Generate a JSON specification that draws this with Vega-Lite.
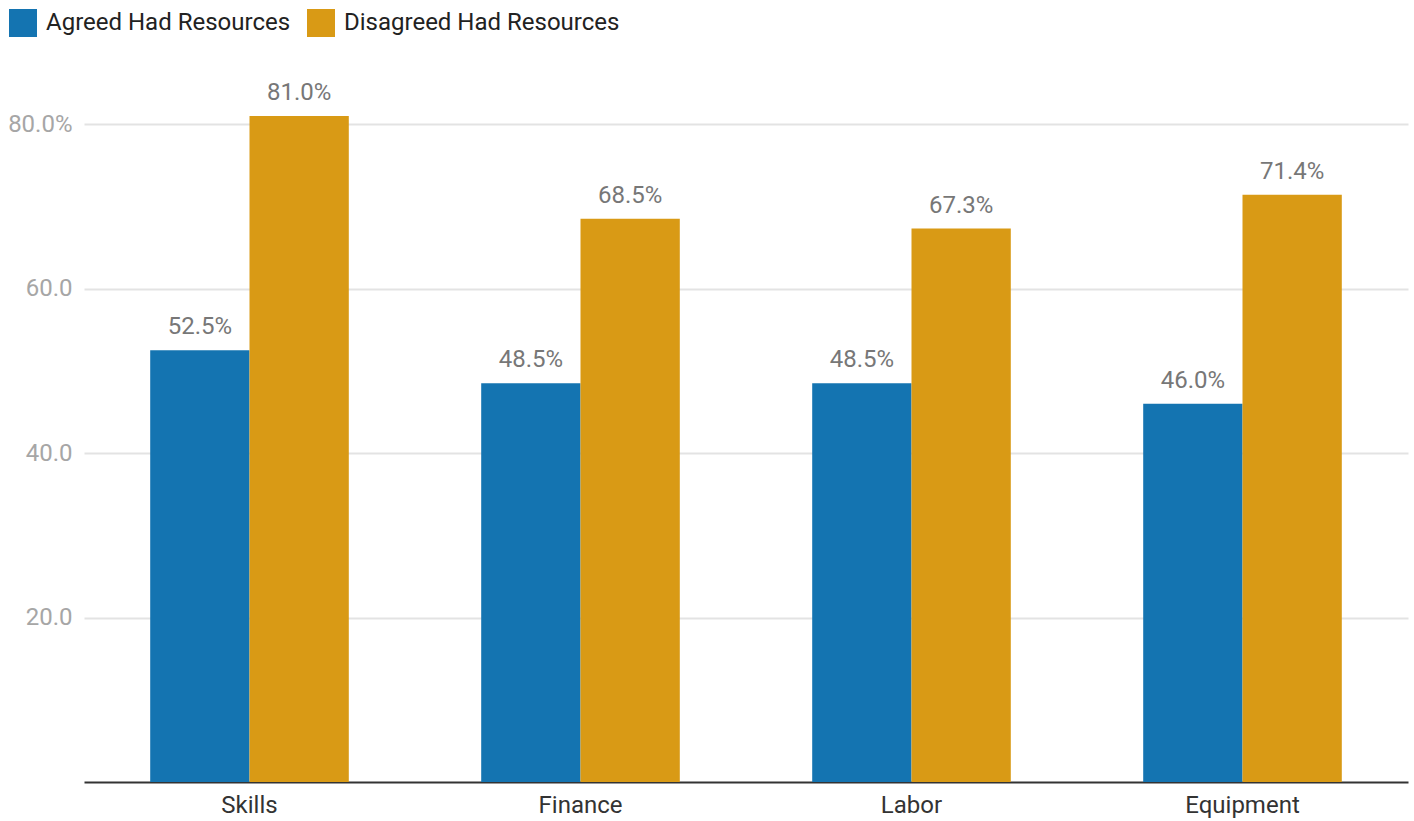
{
  "$schema": "https://vega.github.io/schema/vega-lite/v6.json",
  "autosize": {"type": "none"},
  "width": 1324,
  "height": 699,
  "padding": {"left": 84, "top": 83, "right": 6, "bottom": 39},
  "background": "#ffffff",
  "config": {
    "font": "Roboto",
    "view": {"stroke": null}
  },
  "data": {
    "values": [
      {"category": "Skills", "series": "Agreed Had Resources", "value": 52.5},
      {"category": "Skills", "series": "Disagreed Had Resources", "value": 81.0},
      {"category": "Finance", "series": "Agreed Had Resources", "value": 48.5},
      {"category": "Finance", "series": "Disagreed Had Resources", "value": 68.5},
      {"category": "Labor", "series": "Agreed Had Resources", "value": 48.5},
      {"category": "Labor", "series": "Disagreed Had Resources", "value": 67.3},
      {"category": "Equipment", "series": "Agreed Had Resources", "value": 46.0},
      {"category": "Equipment", "series": "Disagreed Had Resources", "value": 71.4}
    ]
  },
  "transform": [
    {"calculate": "format(datum.value, '.1f') + '%'", "as": "label"}
  ],
  "encoding": {
    "x": {
      "field": "category",
      "type": "nominal",
      "sort": ["Skills", "Finance", "Labor", "Equipment"],
      "scale": {"paddingInner": 0.4, "paddingOuter": 0.2},
      "axis": {
        "title": null,
        "labelAngle": 0,
        "labelFontSize": 24,
        "labelColor": "#333333",
        "labelPadding": 11,
        "ticks": false,
        "domainColor": "#333333",
        "domainWidth": 2,
        "grid": false
      }
    },
    "xOffset": {
      "field": "series",
      "type": "nominal",
      "sort": ["Agreed Had Resources", "Disagreed Had Resources"],
      "scale": {"paddingInner": 0, "paddingOuter": 0}
    },
    "y": {
      "field": "value",
      "type": "quantitative",
      "scale": {"domain": [0, 85], "nice": false},
      "axis": {
        "title": null,
        "values": [20, 40, 60, 80],
        "labelExpr": "datum.value == 80 ? '80.0%' : format(datum.value, '.1f')",
        "labelFontSize": 24,
        "labelColor": "#a6a6a6",
        "labelPadding": 12,
        "ticks": false,
        "domain": false,
        "grid": true,
        "gridColor": "#e3e3e3",
        "gridWidth": 2
      }
    }
  },
  "layer": [
    {
      "mark": {"type": "bar"},
      "encoding": {
        "color": {
          "field": "series",
          "type": "nominal",
          "sort": ["Agreed Had Resources", "Disagreed Had Resources"],
          "scale": {
            "domain": ["Agreed Had Resources", "Disagreed Had Resources"],
            "range": ["#1474b1", "#d99a15"]
          },
          "legend": {
            "title": null,
            "orient": "none",
            "direction": "horizontal",
            "legendX": -75,
            "legendY": -74,
            "symbolType": "square",
            "symbolSize": 784,
            "symbolStrokeWidth": 0,
            "labelFontSize": 24,
            "labelColor": "#222222",
            "labelOffset": 9,
            "columnPadding": 16,
            "labelLimit": 400
          }
        }
      }
    },
    {
      "mark": {"type": "text", "baseline": "alphabetic", "dy": -16, "fontSize": 24, "color": "#777777"},
      "encoding": {
        "text": {"field": "label"}
      }
    }
  ]
}
